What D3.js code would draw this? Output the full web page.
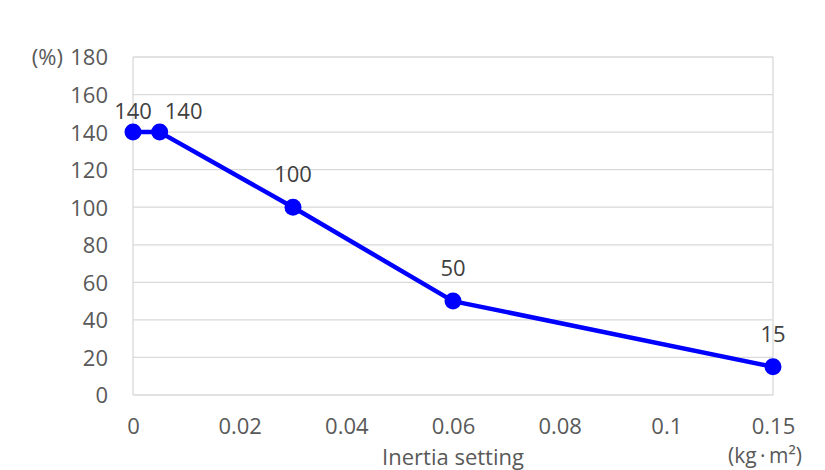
<!DOCTYPE html>
<html><head><meta charset="utf-8">
<script src="https://cdn.jsdelivr.net/npm/d3@7"></script>
<style>
body{margin:0;background:#fff;}
svg{display:block;font-family:"Open Sans","Noto Sans",sans-serif;}
</style></head>
<body><svg id="c" width="825" height="470"></svg>
<script>
const xValues = [0, 0.005, 0.03, 0.06, 0.15];
const yValues = [140, 140, 100, 50, 15];
const xTicks = [0, 0.02, 0.04, 0.06, 0.08, 0.1, 0.15];
const xTickLabels = ["0", "0.02", "0.04", "0.06", "0.08", "0.1", "0.15"];
const yTicks = [0, 20, 40, 60, 80, 100, 120, 140, 160, 180];
const labelShift = [0, 24, 0, 0, 0];
const labelLift = [13, 13, 25, 25, 25];

const svg = d3.select("#c");
const L = 133, R = 773, T = 57, B = 395;
const FS = "22px";
const x = d3.scaleLinear().domain(xTicks).range(xTicks.map((d,i)=>L + (R-L)*i/(xTicks.length-1)));
const y = d3.scaleLinear().domain([0,180]).range([B,T]);
const txt = "#595959";

// grid
svg.append("g").selectAll("line").data(yTicks).join("line")
  .attr("x1",L).attr("x2",R).attr("y1",d=>y(d)).attr("y2",d=>y(d))
  .attr("stroke","#d9d9d9").attr("stroke-width",1.3);
svg.append("line").attr("x1",L).attr("x2",L).attr("y1",T).attr("y2",B).attr("stroke","#d9d9d9").attr("stroke-width",1.3);
svg.append("line").attr("x1",R).attr("x2",R).attr("y1",T).attr("y2",B).attr("stroke","#d9d9d9").attr("stroke-width",1.3);

// y axis labels
const yAxis = d3.axisLeft(y).tickValues(yTicks).tickSize(0).tickPadding(25);
const gy = svg.append("g").attr("transform",`translate(${L},0)`).call(yAxis);
gy.select(".domain").remove();
gy.selectAll("text").attr("fill",txt).attr("dy","0.36em").style("font-size",FS).style("font-family","'Open Sans','Noto Sans',sans-serif");

// x axis labels
const xAxis = d3.axisBottom(x).tickValues(xTicks).tickFormat((d,i)=>xTickLabels[i]).tickSize(0).tickPadding(0);
const gx = svg.append("g").attr("transform",`translate(0,${B})`).call(xAxis);
gx.select(".domain").remove();
gx.selectAll("text").attr("fill",txt).attr("y",39).attr("dy",0).style("font-size",FS).style("font-family","'Open Sans','Noto Sans',sans-serif");

// unit labels
svg.append("text").attr("x",63).attr("y",y(180)+8).attr("text-anchor","end").attr("fill",txt).style("font-size",FS).text("(%)");
svg.append("text").attr("x",453).attr("y",465).attr("text-anchor","middle").attr("fill",txt).style("font-size",FS).text("Inertia setting");
svg.append("text").attr("x",765).attr("y",463).attr("text-anchor","middle").attr("fill",txt).style("font-size","21px").text("(kg\u2009\u00b7\u2009m\u00b2)");

// line
const pts = xValues.map((d,i)=>[d,yValues[i]]);
svg.append("path").datum(pts)
  .attr("d",d3.line().x(d=>x(d[0])).y(d=>y(d[1])))
  .attr("fill","none").attr("stroke","#0000ff").attr("stroke-width",4.5).attr("stroke-linejoin","round");
svg.append("g").selectAll("circle").data(pts).join("circle")
  .attr("cx",d=>x(d[0])).attr("cy",d=>y(d[1])).attr("r",8.5).attr("fill","#0000ff");

// data labels
svg.append("g").selectAll("text").data(pts).join("text")
  .attr("x",(d,i)=>x(d[0])+labelShift[i]).attr("y",(d,i)=>y(d[1])-labelLift[i])
  .attr("text-anchor","middle").attr("fill","#404040").style("font-size",FS)
  .text(d=>d[1]);
</script></body></html>
